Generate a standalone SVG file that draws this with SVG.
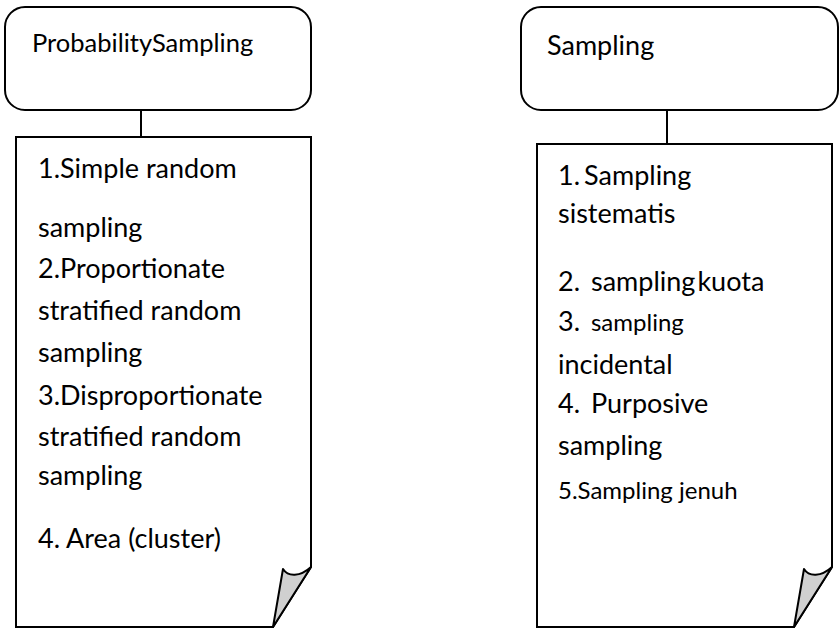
<svg xmlns="http://www.w3.org/2000/svg" width="840" height="629" viewBox="0 0 840 629">
<style>
.box{fill:#fff;stroke:#000;stroke-width:2}
.fold{fill:#d0d0d0;stroke:#000;stroke-width:2;stroke-linejoin:round}
.t{font-family:Lato,"Open Sans","Liberation Sans",sans-serif;font-size:27px;fill:#000}
.s{font-size:24px}
.c{stroke:#000;stroke-width:2;fill:none}
</style>
<rect width="840" height="629" fill="#fff"/>
<g id="connectors">
<line class="c" x1="141" y1="110" x2="141" y2="137"/>
<line class="c" x1="667" y1="110" x2="667" y2="144"/>
</g>
<g id="probability-sampling">
<rect class="box" x="5" y="7" width="306" height="103" rx="20" ry="20"/>
<text class="t" x="32" y="52" style="font-size:25.5px">ProbabilitySampling</text>
</g>
<g id="probability-list">
<path class="box" d="M16,137 H311 V567 L273,627 H16 Z"/>
<path class="fold" d="M273,627 L283,569 C288,577 300,577 311,567 Z"/>
<text class="t" x="38" y="178">1.Simple random</text>
<text class="t" x="38" y="237">sampling</text>
<text class="t" x="38" y="278">2.Proportionate</text>
<text class="t" x="38" y="320">stratified random</text>
<text class="t" x="38" y="362">sampling</text>
<text class="t" x="38" y="405">3.Disproportionate</text>
<text class="t" x="38" y="446">stratified random</text>
<text class="t" x="38" y="485">sampling</text>
<text class="t" x="38" y="548">4. Area (cluster)</text>
</g>
<g id="sampling">
<rect class="box" x="521" y="7" width="317" height="103" rx="20" ry="20"/>
<text class="t" x="547" y="55">Sampling</text>
</g>
<g id="sampling-list">
<path class="box" d="M537,144 H832 V567 L794,627 H537 Z"/>
<path class="fold" d="M794,627 L804,569 C809,577 821,577 832,567 Z"/>
<text class="t" x="558" y="185">1.<tspan dx="4">Sampling</tspan></text>
<text class="t" x="558" y="223">sistematis</text>
<text class="t" x="558" y="291">2. <tspan dx="4">sampling</tspan><tspan dx="2">kuota</tspan></text>
<text class="t" x="558" y="331">3. <tspan class="s" dx="4">sampling</tspan></text>
<text class="t" x="558" y="374">incidental</text>
<text class="t" x="558" y="413">4. <tspan dx="4">Purposive</tspan></text>
<text class="t" x="558" y="455">sampling</text>
<text class="t s" x="558" y="499">5.Sampling jenuh</text>
</g>
</svg>
